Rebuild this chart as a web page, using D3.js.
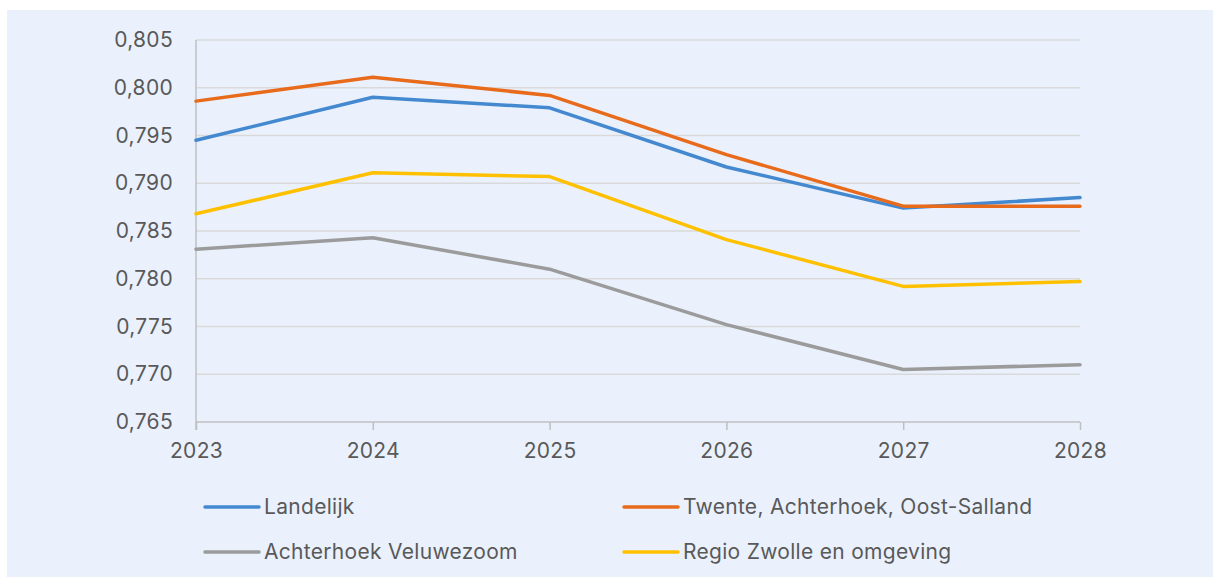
<!DOCTYPE html>
<html>
<head>
<meta charset="utf-8">
<script src="https://cdn.jsdelivr.net/npm/d3@7"></script>
<style>
  html, body { margin: 0; padding: 0; background: #ffffff; }
  svg { display: block; }
  text { font-family: Inter, "Noto Sans", sans-serif; fill: #595959; letter-spacing: 0.3px; }
</style>
</head>
<body>
<svg id="chart" width="1213" height="577"></svg>
<script>
const years = ["2023", "2024", "2025", "2026", "2027", "2028"];
const seriesNames = ["Landelijk", "Twente, Achterhoek, Oost-Salland", "Achterhoek Veluwezoom", "Regio Zwolle en omgeving"];
const landelijk = [0.7945, 0.7990, 0.7979, 0.7917, 0.7874, 0.7885];
const twente = [0.7986, 0.8011, 0.7992, 0.7930, 0.7876, 0.7876];
const achterhoekVeluwezoom = [0.7831, 0.7843, 0.7810, 0.7752, 0.7705, 0.7710];
const regioZwolle = [0.7868, 0.7911, 0.7907, 0.7841, 0.7792, 0.7797];
const yTicks = [0.765, 0.770, 0.775, 0.780, 0.785, 0.790, 0.795, 0.800, 0.805];
const colors = ["#4489CF", "#E86B1C", "#9B9B9B", "#FFC000"];

const allSeries = [landelijk, twente, achterhoekVeluwezoom, regioZwolle];

const svg = d3.select("#chart");
svg.append("rect").attr("x", 7).attr("y", 10).attr("width", 1206).attr("height", 567).attr("fill", "#EAF1FD");

const x = d3.scalePoint().domain(years).range([196, 1080]);
const y = d3.scaleLinear().domain([0.765, 0.805]).range([422, 40]);

// gridlines
svg.append("g").selectAll("line").data(yTicks.slice(1)).join("line")
  .attr("x1", 196).attr("x2", 1080)
  .attr("y1", d => y(d)).attr("y2", d => y(d))
  .attr("stroke", "#D9D9D9").attr("stroke-width", 1.3);

// y axis
const yAxis = svg.append("g").attr("transform", "translate(196,0)")
  .call(d3.axisLeft(y).tickValues(yTicks).tickSize(0).tickPadding(23)
    .tickFormat(d => d3.format(".3f")(d).replace(".", ",")));
yAxis.select(".domain").remove();
yAxis.selectAll("text").style("font-size", "21px").attr("fill", "#595959");
svg.append("line").attr("x1", 196).attr("x2", 196).attr("y1", 40).attr("y2", 430)
  .attr("stroke", "#BFBFBF").attr("stroke-width", 1.5);

// x axis
const xAxis = svg.append("g").attr("transform", "translate(0,422)")
  .call(d3.axisBottom(x).tickSize(8).tickPadding(13));
xAxis.select(".domain").attr("stroke", "#BFBFBF").attr("stroke-width", 1.5).attr("d", "M196,0H1080");
xAxis.selectAll(".tick line").attr("stroke", "#BFBFBF").attr("stroke-width", 1.5);
xAxis.selectAll("text").style("font-size", "21px").attr("fill", "#595959");

// lines
const line = d3.line().x((d, i) => x(years[i])).y(d => y(d));
const drawOrder = [2, 3, 0, 1];
drawOrder.forEach(i => {
  svg.append("path").datum(allSeries[i]).attr("d", line)
    .attr("fill", "none").attr("stroke", colors[i]).attr("stroke-width", 3.5)
    .attr("stroke-linejoin", "round").attr("stroke-linecap", "round");
});

// legend
const legendPos = [[205, 507], [624, 507], [205, 552], [624, 552]];
seriesNames.forEach((name, i) => {
  const [lx, ly] = legendPos[i];
  svg.append("line").attr("x1", lx).attr("x2", lx + 54).attr("y1", ly).attr("y2", ly)
    .attr("stroke", colors[i]).attr("stroke-width", 3.5).attr("stroke-linecap", "round");
  svg.append("text").attr("x", lx + 59).attr("y", ly).attr("dy", "0.35em")
    .style("font-size", "21px").text(name);
});
</script>
</body>
</html>
